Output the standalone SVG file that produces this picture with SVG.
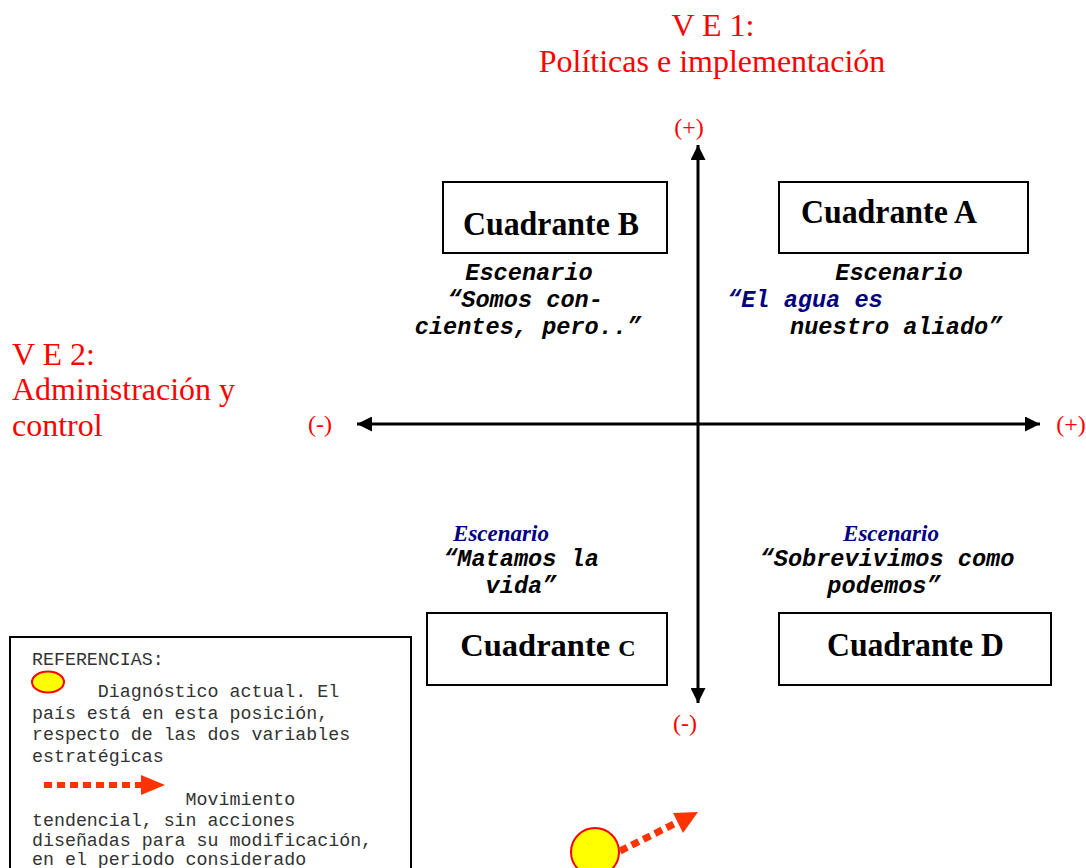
<svg xmlns="http://www.w3.org/2000/svg" width="1086" height="868" viewBox="0 0 1086 868">
<style>
.red{font-family:"Liberation Serif","Times New Roman",serif;fill:#ff0000;font-size:32px}
.sign{font-family:"Liberation Serif","Times New Roman",serif;fill:#ff0000;font-size:24px}
.box{fill:#ffffff;stroke:#000;stroke-width:2}
.quad{font-family:"Liberation Serif","Times New Roman",serif;font-weight:bold;font-size:34px;fill:#000}
.esc{font-family:"Liberation Mono","Courier New",monospace;font-weight:bold;font-style:italic;font-size:23.6px;fill:#000}
.navy{fill:#000080}
.esct{font-family:"Liberation Serif","Times New Roman",serif;font-weight:bold;font-style:italic;font-size:23px;fill:#000080}
.leg{font-family:"Liberation Mono","Courier New",monospace;font-size:18.3px;fill:#333}
.axis{stroke:#000;stroke-width:3;fill:none}
.dot{stroke:#ff3300;stroke-dasharray:8 5;fill:none}
.sun{fill:#ffff00;stroke:#ff0000;stroke-width:2}
</style>
<defs>
<marker id="ah" viewBox="0 0 10 10" refX="10" refY="5" markerWidth="5" markerHeight="5" markerUnits="strokeWidth" orient="auto">
<path d="M0,0 L10,5 L0,10 z" fill="#000"/>
</marker>
</defs>
<rect width="1086" height="868" fill="#ffffff"/>

<g id="titles">
<text class="red" x="713" y="36" text-anchor="middle">V E 1:</text>
<text class="red" x="712" y="72" text-anchor="middle">Políticas e implementación</text>
<text class="red" x="12" y="365">V E 2:</text>
<text class="red" x="12" y="400">Administración y</text>
<text class="red" x="12" y="436">control</text>
<text class="sign" x="689" y="135" text-anchor="middle">(+)</text>
<text class="sign" x="685" y="731" text-anchor="middle">(-)</text>
<text class="sign" x="320" y="432" text-anchor="middle">(-)</text>
<text class="sign" x="1071" y="432" text-anchor="middle">(+)</text>
</g>

<g id="connectors">
<line class="axis" x1="698" y1="424" x2="698" y2="145" marker-end="url(#ah)"/>
<line class="axis" x1="698" y1="424" x2="698" y2="703" marker-end="url(#ah)"/>
<line class="axis" x1="698" y1="424" x2="357" y2="424" marker-end="url(#ah)"/>
<line class="axis" x1="698" y1="424" x2="1040" y2="424" marker-end="url(#ah)"/>
</g>

<g id="cuadrante-b">
<rect class="box" x="443" y="182" width="224" height="71"/>
<text class="quad" x="463" y="235" textLength="176" lengthAdjust="spacingAndGlyphs">Cuadrante B</text>
<text class="esc" x="529" y="280" text-anchor="middle">Escenario</text>
<text class="esc" x="525" y="307" text-anchor="middle">“Somos con-</text>
<text class="esc" x="528" y="334" text-anchor="middle">cientes, pero..”</text>
</g>

<g id="cuadrante-a">
<rect class="box" x="779" y="182" width="249" height="71"/>
<text class="quad" x="801" y="223" textLength="176" lengthAdjust="spacingAndGlyphs">Cuadrante A</text>
<text class="esc" x="899" y="280" text-anchor="middle">Escenario</text>
<text class="esc navy" x="727" y="307">“El agua es</text>
<text class="esc" x="790" y="334">nuestro aliado”</text>
</g>

<g id="cuadrante-c">
<text class="esct" x="501" y="541" text-anchor="middle">Escenario</text>
<text class="esc" x="521" y="566" text-anchor="middle">“Matamos la</text>
<text class="esc" x="521" y="593" text-anchor="middle">vida”</text>
<rect class="box" x="427" y="613" width="240" height="72"/>
<text class="quad" x="548" y="656" text-anchor="middle" style="font-size:32.5px">Cuadrante <tspan style="font-size:24px">C</tspan></text>
</g>

<g id="cuadrante-d">
<text class="esct" x="891" y="541" text-anchor="middle">Escenario</text>
<text class="esc" x="887" y="566" text-anchor="middle">“Sobrevivimos como</text>
<text class="esc" x="884" y="593" text-anchor="middle">podemos”</text>
<rect class="box" x="779" y="613" width="272" height="72"/>
<text class="quad" x="827" y="656" textLength="177" lengthAdjust="spacingAndGlyphs">Cuadrante D</text>
</g>

<g id="referencias">
<rect x="10" y="637" width="401" height="240" fill="#ffffff" stroke="#000" stroke-width="2"/>
<text class="leg" x="32" y="665">REFERENCIAS:</text>
<ellipse class="sun" cx="48" cy="682" rx="16" ry="10.5"/>
<text class="leg" x="32" y="697" xml:space="preserve">      Diagnóstico actual. El</text>
<text class="leg" x="32" y="719">país está en esta posición,</text>
<text class="leg" x="32" y="740">respecto de las dos variables</text>
<text class="leg" x="32" y="762">estratégicas</text>
<line class="dot" x1="44" y1="785" x2="143" y2="785" stroke-width="6"/>
<polygon points="141,775 165,785 141,795" fill="#ff3300"/>
<text class="leg" x="32" y="805" xml:space="preserve">              Movimiento</text>
<text class="leg" x="32" y="826">tendencial, sin acciones</text>
<text class="leg" x="32" y="846">diseñadas para su modificación,</text>
<text class="leg" x="32" y="865">en el periodo considerado</text>
</g>

<g id="diagnostico">
<circle class="sun" cx="595" cy="852" r="24"/>
<line class="dot" x1="620" y1="851" x2="676" y2="823" stroke-width="7"/>
<polygon points="673,813 698,812 683,833" fill="#ff3300"/>
</g>
</svg>
